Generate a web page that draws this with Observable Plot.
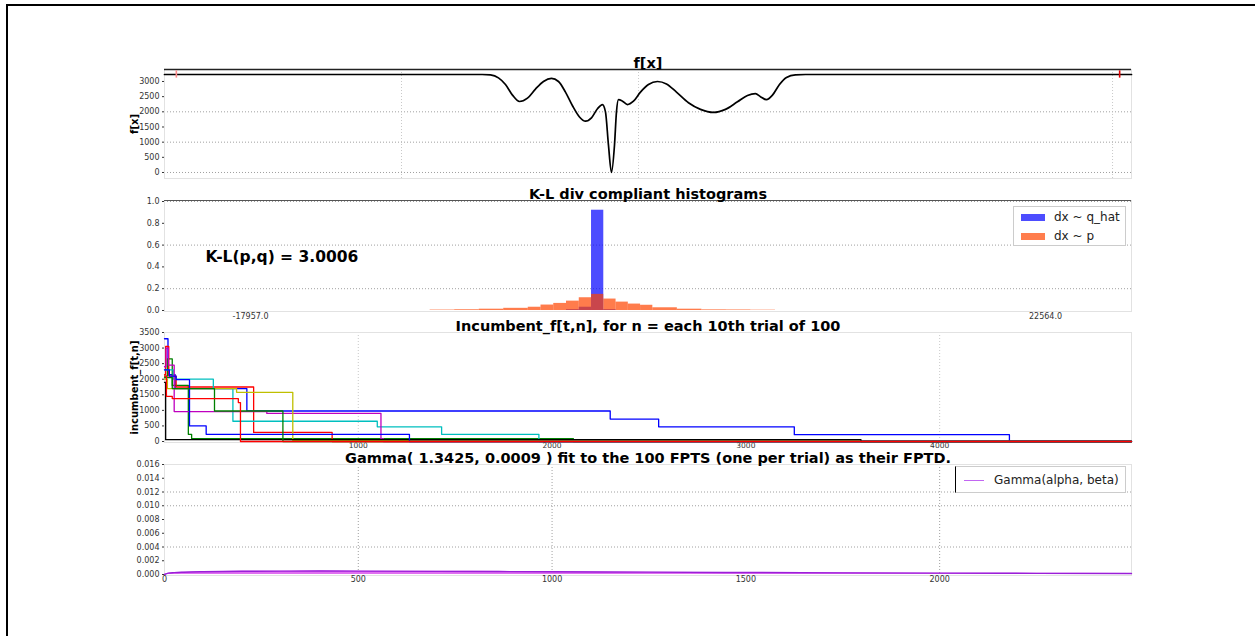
<!DOCTYPE html>
<html><head><meta charset="utf-8">
<script src="https://cdn.jsdelivr.net/npm/d3@7"></script>
<script src="https://cdn.jsdelivr.net/npm/@observablehq/plot@0.6"></script>
<style>
body{margin:0;background:#fff;font-family:"DejaVu Sans",sans-serif;}
#wrap{position:relative;width:1255px;height:636px;overflow:hidden;background:#fff;}
.border{position:absolute;left:6px;top:4px;width:1400px;height:800px;border-top:2px solid #000;border-left:2px solid #000;}
.legend{position:absolute;background:#fff;border:1px solid #ccc;box-sizing:border-box;font-size:12px;color:#222;}
.legend .patch{position:absolute;}
.legend .lab{position:absolute;line-height:14px;white-space:nowrap;}
</style></head><body><div id="wrap"><div class="border"></div></div>
<script>
// ---------- Panel 1: f[x] ----------
const fX = [-20000,-6600,-6246,-5909,-5613,-5318,-5023,-4685,-4348,-4010,-3673,-3377,-3082,-2786,-2491,-2238,-1985,-1732,-1521,-1394,-1268,-1141,-1014,-930,-846,-677,-466,-213,82,420,800,1179,1601,2108,2614,3162,3669,4175,4597,4934,5145,5398,5652,5947,6242,6622,7044,20800];
const fY = [3230,3230,3215,3120,2900,2550,2340,2450,2750,3000,3100,3000,2650,2200,1830,1690,1800,2100,2240,2000,900,0,900,2000,2400,2350,2240,2350,2650,2900,3000,2920,2650,2300,2080,1980,2080,2330,2540,2600,2500,2400,2550,2900,3130,3220,3230,3230];
const fMarkerX = [-19500, 20300];
const fMarkerY = [3230, 3230];
const fMarkerColor = ["#ff8c8c", "#e00000"];
const fYTicks = [0,500,1000,1500,2000,2500,3000];
const fYGrid = [0,1000,2000];
const fXGrid = [-10000,0,20000];

// ---------- Panel 2: K-L histograms ----------
const binEdges = [-8800,-7550,-6300,-5050,-3800,-3150,-2500,-1850,-1200,-575,50,675,1300,1925,2550,3800,5050,6300,7550,8800];
const pHeights = [0.004,0.007,0.012,0.02,0.03,0.05,0.065,0.086,0.117,0.148,0.105,0.077,0.059,0.048,0.025,0.012,0.006,0.005,0.003];
const qHeights = [0,0,0,0,0,0,0,0.008,0.03,0.92,0.008,0,0,0,0,0,0,0,0];
const klXTicks = [-17957.0, 22564.0];
const klYTicks = [0,0.2,0.4,0.6,0.8,1.0];
const klYGrid = [0.2,0.6,1.0];
const klText = "K-L(p,q) = 3.0006";

// ---------- Panel 3: incumbent ----------
const trialColors = ["#0000ff","#008000","#ff0000","#00bfbf","#bf00bf","#bfbf00","#000000","#0000ff","#008000","#ff0000"];
const trialSteps = [
  [[0,3300],[18,2150],[55,1700],[425,980],[2300,720],[2550,470],[3250,220],[4360,0],[4990,0]],
  [[0,2100],[15,2650],[40,1800],[123,230],[140,90],[2110,0],[4990,0]],
  [[0,2150],[6,3050],[22,2100],[60,1750],[460,290],[865,0],[4990,0]],
  [[0,2300],[45,2000],[252,1700],[353,650],[1098,470],[1430,230],[1932,0],[4990,0]],
  [[0,2400],[8,3000],[20,2450],[50,960],[528,900],[1117,80],[1130,0],[4990,0]],
  [[0,2000],[15,1700],[372,1580],[662,25],[3594,0],[4990,0]],
  [[0,1900],[6,60],[3594,0],[4990,0]],
  [[0,2300],[25,2100],[60,1990],[129,500],[215,230],[1264,0],[4990,0]],
  [[0,2050],[40,1700],[258,980],[611,0],[4990,0]],
  [[0,2100],[10,1450],[40,1380],[381,1250],[392,0],[4990,0]]
];
const incXTicks = [1000,2000,3000,4000];
const incYTicks = [0,500,1000,1500,2000,2500,3000,3500];
const incXGrid = [1000,4000];

// ---------- Panel 4: Gamma fit ----------
const gT = [0,10,25,50,100,200,300,400,500,700,1000,1250,1500,1750,2000,2250,2495];
const gPdf = [0,0.0002,0.00027,0.00033,0.0004,0.00047,0.00049,0.0005,0.00049,0.00046,0.0004,0.00034,0.00029,0.00024,0.0002,0.00017,0.00014];
const gXTicks = [0,500,1000,1500,2000];
const gYTicks = [0,0.002,0.004,0.006,0.008,0.010,0.012,0.014,0.016];
const gYGrid = [0.004,0.010,0.012];
const gXGrid = [500,1000,2000];

const titles = ["f[x]", "K-L div compliant histograms", "Incumbent_f[t,n], for n = each 10th trial of 100", "Gamma( 1.3425, 0.0009 ) fit to the 100 FPTS (one per trial) as their FPTD."];

const wrap = document.getElementById("wrap");
const FONT = "DejaVu Sans";
const intFmt = d3.format("d");
const dotted = {stroke: "#888", strokeWidth: 0.8, strokeDasharray: "1,2"};
const dottedLight = {stroke: "#bbb", strokeWidth: 0.8, strokeDasharray: "1,2"};

function place(frameTop, frameH, mt, mb, opts) {
  const p = Plot.plot({
    width: 1255, height: mt + frameH + mb,
    marginLeft: 164, marginRight: 124, marginTop: mt, marginBottom: mb,
    style: {fontFamily: FONT, fontSize: "8px", background: "transparent", overflow: "visible", color: "#333"},
    ...opts
  });
  p.style.position = "absolute";
  p.style.left = "0px";
  p.style.top = (frameTop - mt) + "px";
  wrap.appendChild(p);
  return p;
}
function title(t) {
  return Plot.text([t], {frameAnchor: "top", dy: -2, lineAnchor: "bottom", textAnchor: "middle", fontWeight: "bold", fontSize: 14.5, fill: "#000"});
}
function ylab(t) {
  return Plot.text([t], {frameAnchor: "left", dx: -30, rotate: -90, textAnchor: "middle", lineAnchor: "middle", fontWeight: "bold", fontSize: 10, fill: "#000"});
}

// Panel 1
const f1Domain = [-198, 3395];
place(69, 109, 24, 6, {
  x: {domain: [-20000, 20800], axis: null},
  y: {domain: f1Domain},
  marks: [
    Plot.ruleY(fYGrid, dotted),
    Plot.ruleX(fXGrid, dottedLight),
    Plot.frame({stroke: "#e2e2e2"}),
    Plot.ruleY([f1Domain[1]], {stroke: "#222", strokeWidth: 1.4}),
    Plot.line(fX.map((x, i) => ({x, y: fY[i]})), {x: "x", y: "y", stroke: "#000", strokeWidth: 1.7, curve: "monotone-x"}),
    Plot.ruleX(fMarkerX.map((x, i) => ({x, y: fMarkerY[i], c: fMarkerColor[i]})), {x: "x", y1: d => d.y - 120, y2: d => d.y + 120, stroke: "c", strokeWidth: 1.6}),
    Plot.axisY({ticks: fYTicks, tickFormat: intFmt, tickSize: 2, tickPadding: 3, label: null, fontSize: 8}),
    ylab("f[x]"),
    title(titles[0])
  ]
});

// Panel 2
const bins = pHeights.map((h, i) => ({x1: binEdges[i], x2: binEdges[i + 1], p: h, q: qHeights[i]}));
place(200, 111, 24, 14, {
  x: {domain: [-22340, 26947]},
  y: {domain: [-0.0092, 1.0092]},
  marks: [
    Plot.ruleY(klYGrid, dotted),
    Plot.frame({stroke: "#e2e2e2"}),
    Plot.ruleY([1.0092], {stroke: "#555", strokeWidth: 1}),
    Plot.rect(bins.filter(d => d.q > 0), {x1: "x1", x2: "x2", y1: () => 0, y2: "q", fill: "#0000ff", fillOpacity: 0.7}),
    Plot.rect(bins, {x1: "x1", x2: "x2", y1: () => 0, y2: "p", fill: "#ff4500", fillOpacity: 0.7}),
    Plot.axisY({ticks: klYTicks, tickFormat: d => d.toFixed(1), tickSize: 2, tickPadding: 3, label: null, fontSize: 8}),
    Plot.axisX({ticks: klXTicks, tickFormat: d => d.toFixed(1), tickSize: 0, tickPadding: 2, label: null, fontSize: 8}),
    Plot.text([klText], {frameAnchor: "top-left", dx: 41, dy: 57, textAnchor: "start", lineAnchor: "middle", fontWeight: "bold", fontSize: 15.5, fill: "#000"}),
    title(titles[1])
  ]
});

// Panel 3
const incRows = trialSteps.flatMap((s, k) => s.map(([t, v]) => ({trial: k, t, v, c: trialColors[k]})));
place(332, 110, 24, 12, {
  x: {domain: [0, 4990]},
  y: {domain: [-32, 3500]},
  marks: [
    Plot.ruleX(incXGrid, dottedLight),
    Plot.frame({stroke: "#e2e2e2"}),
    Plot.line(incRows, {x: "t", y: "v", z: "trial", stroke: "c", strokeWidth: 1.3, curve: "step-after"}),
    Plot.axisY({ticks: incYTicks, tickFormat: intFmt, tickSize: 2, tickPadding: 3, label: null, fontSize: 8}),
    Plot.axisX({ticks: incXTicks, tickFormat: intFmt, tickSize: 0, tickPadding: 0, label: null, fontSize: 7.5}),
    ylab("incumbent_f[t,n]"),
    title(titles[2])
  ]
});

// Panel 4
const gRows = gT.map((t, i) => ({t, v: gPdf[i]}));
place(464, 111, 24, 14, {
  x: {domain: [0, 2495]},
  y: {domain: [-0.000145, 0.016]},
  marks: [
    Plot.ruleY(gYGrid, dotted),
    Plot.ruleX(gXGrid, dotted),
    Plot.frame({stroke: "#e2e2e2"}),
    Plot.areaY(gRows, {x: "t", y1: () => 0, y2: "v", fill: "#e070f0", curve: "monotone-x"}),
    Plot.line(gRows, {x: "t", y: "v", stroke: "#9a1fd8", strokeWidth: 1.4, curve: "monotone-x"}),
    Plot.axisY({ticks: gYTicks, tickFormat: d => d.toFixed(3), tickSize: 2, tickPadding: 3, label: null, fontSize: 8}),
    Plot.axisX({ticks: gXTicks, tickFormat: intFmt, tickSize: 0, tickPadding: 1, label: null, fontSize: 8}),
    title(titles[3])
  ]
});

// Legends
const klLegend = [["dx ~ q_hat", "#4d4dff"], ["dx ~ p", "#ff7d4d"]];
const l1 = document.createElement("div");
l1.className = "legend";
Object.assign(l1.style, {left: "1013px", top: "206px", width: "113px", height: "40px"});
klLegend.forEach(([lab, col], i) => {
  const p = document.createElement("div"); p.className = "patch";
  Object.assign(p.style, {left: "7px", top: (7 + i * 19) + "px", width: "24px", height: "7px", background: col});
  const t = document.createElement("div"); t.className = "lab"; t.textContent = lab;
  Object.assign(t.style, {left: "40px", top: (3 + i * 19) + "px"});
  l1.appendChild(p); l1.appendChild(t);
});
wrap.appendChild(l1);

const gLegend = [["Gamma(alpha, beta)", "#c266f2"]];
const l2 = document.createElement("div");
l2.className = "legend";
Object.assign(l2.style, {left: "955px", top: "466px", width: "171px", height: "27px", borderLeft: "1px solid #000"});
gLegend.forEach(([lab, col]) => {
  const p = document.createElement("div"); p.className = "patch";
  Object.assign(p.style, {left: "8px", top: "13px", width: "20px", height: "1px", background: col});
  const t = document.createElement("div"); t.className = "lab"; t.textContent = lab;
  Object.assign(t.style, {left: "38px", top: "6px"});
  l2.appendChild(p); l2.appendChild(t);
});
wrap.appendChild(l2);
</script>
</body></html>
